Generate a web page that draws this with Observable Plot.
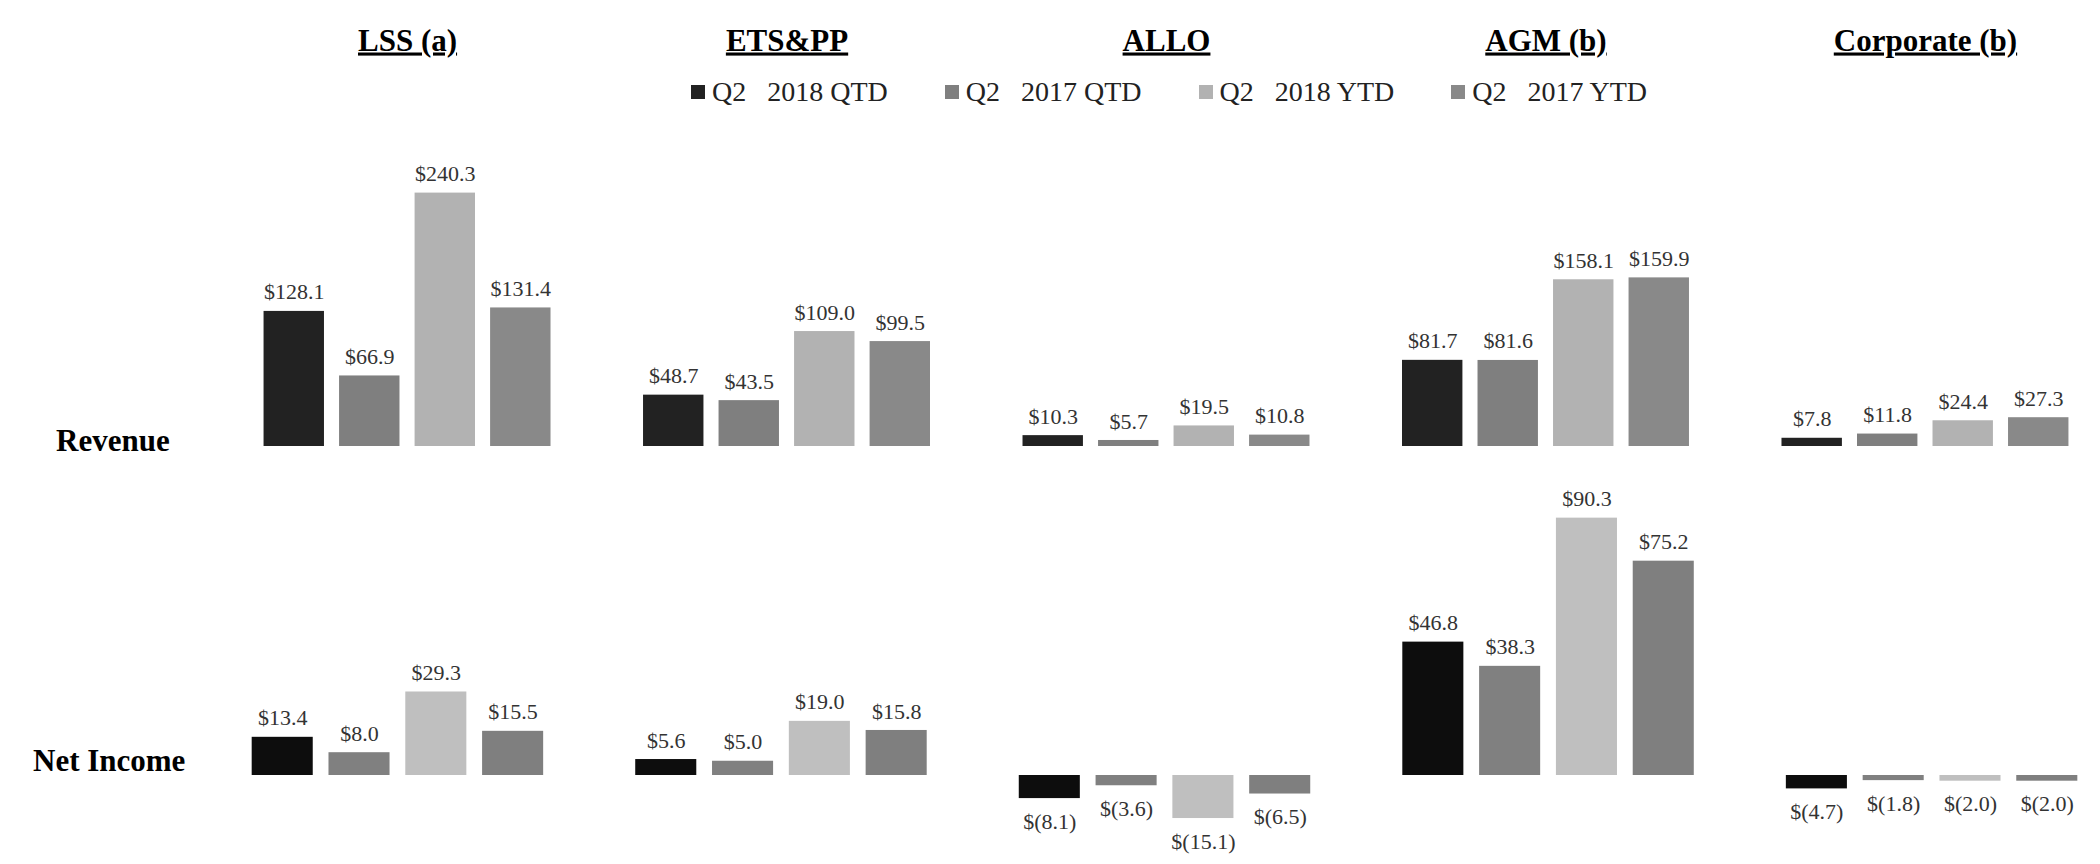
<!DOCTYPE html>
<html>
<head>
<meta charset="utf-8">
<script src="https://cdn.jsdelivr.net/npm/d3@7"></script>
<script src="https://cdn.jsdelivr.net/npm/@observablehq/plot@0.6"></script>
<style>
  html, body { margin: 0; padding: 0; background: #fff; }
  #chart { position: relative; width: 2100px; height: 864px; font-family: "Liberation Serif", "Times New Roman", serif; }
  #chart svg { display: block; }
  #rev { position: absolute; left: 0; top: 0; }
  #ni { position: absolute; left: 0; top: 470px; }
  .rowlabel { position: absolute; font-weight: bold; font-size: 31px; line-height: 31px; color: #000; white-space: nowrap; }
  #legend { position: absolute; left: 691px; top: 75px; color: #222; }
  #legend > div { font-family: "Liberation Serif", "Times New Roman", serif !important; font-size: 28px !important; margin: 0 !important; }
  #legend span { margin-right: 57px !important; white-space: pre; }
  #legend svg { margin-right: 7px !important; }
  #rev g[aria-label="fx-axis tick label"] text { text-decoration: underline; text-decoration-thickness: 2.5px; text-underline-offset: 4px; }
</style>
</head>
<body>
<div id="chart">
  <div id="rev"></div>
  <div id="ni"></div>
  <div id="legend"></div>
  <div class="rowlabel" id="lblRev" style="left:56px; top:425px;"></div>
  <div class="rowlabel" id="lblNi" style="left:33px; top:745px;"></div>
</div>
<script>
// ---- Data ----
const segments = ["LSS (a)", "ETS&PP", "ALLO", "AGM (b)", "Corporate (b)"];
const series = ["Q2   2018 QTD", "Q2   2017 QTD", "Q2   2018 YTD", "Q2   2017 YTD"];
const rowLabels = ["Revenue", "Net Income"];

// Revenue ($M) per segment, one array per series
const revenue2018QTD = [128.1, 48.7, 10.3, 81.7, 7.8];
const revenue2017QTD = [66.9, 43.5, 5.7, 81.6, 11.8];
const revenue2018YTD = [240.3, 109.0, 19.5, 158.1, 24.4];
const revenue2017YTD = [131.4, 99.5, 10.8, 159.9, 27.3];

// Net income ($M) per segment, one array per series
const netIncome2018QTD = [13.4, 5.6, -8.1, 46.8, -4.7];
const netIncome2017QTD = [8.0, 5.0, -3.6, 38.3, -1.8];
const netIncome2018YTD = [29.3, 19.0, -15.1, 90.3, -2.0];
const netIncome2017YTD = [15.5, 15.8, -6.5, 75.2, -2.0];

const revColors = ["#222222", "#7f7f7f", "#b2b2b2", "#898989"];
const niColors = ["#0d0d0d", "#808080", "#bfbfbf", "#7f7f7f"];

// ---- Build tidy tables ----
function tidy(arrays) {
  const out = [];
  segments.forEach((seg, i) => {
    series.forEach((s, j) => out.push({segment: seg, series: s, value: arrays[j][i]}));
  });
  return out;
}
const revData = tidy([revenue2018QTD, revenue2017QTD, revenue2018YTD, revenue2017YTD]);
const niData = tidy([netIncome2018QTD, netIncome2017QTD, netIncome2018YTD, netIncome2017YTD]);

const fmt = v => v >= 0 ? `$${v.toFixed(1)}` : `$(${(-v).toFixed(1)})`;
const FONT = '"Liberation Serif", "Times New Roman", serif';

function labels(data) {
  return [
    Plot.text(data, {filter: d => d.value >= 0, fx: "segment", x: "series", y: "value", text: d => fmt(d.value),
      dy: -19, fontSize: 22, fill: "#333", fontFamily: FONT}),
    Plot.text(data, {filter: d => d.value < 0, fx: "segment", x: "series", y: "value", text: d => fmt(d.value),
      dy: 23, fontSize: 22, fill: "#333", fontFamily: FONT})
  ];
}

// ---- Revenue row ----
const rev = Plot.plot({
  width: 2100, height: 470,
  marginTop: 98, marginBottom: 24, marginLeft: 256, marginRight: 24,
  style: {fontFamily: FONT, background: "transparent", overflow: "visible"},
  fx: {domain: segments, paddingInner: 0.204, paddingOuter: 0, round: false, label: null},
  x: {domain: series, paddingInner: 0.2, paddingOuter: 0.1, round: false, axis: null},
  y: {domain: [0, 330], axis: null},
  color: {domain: series, range: revColors},
  marks: [
    Plot.axisFx({anchor: "top", tickSize: 0, fontSize: 31, fontWeight: "bold", dy: -39, label: null, fill: "#000", fontFamily: FONT}),
    Plot.barY(revData, {fx: "segment", x: "series", y: "value", fill: "series"}),
    ...labels(revData)
  ]
});
document.getElementById("rev").appendChild(rev);

// ---- Net income row ----
const ni = Plot.plot({
  width: 2100, height: 394,
  marginTop: 20, marginBottom: 32, marginLeft: 244, marginRight: 15,
  style: {fontFamily: FONT, background: "transparent", overflow: "visible"},
  fx: {domain: segments, paddingInner: 0.2, paddingOuter: 0, round: false, axis: null},
  x: {domain: series, paddingInner: 0.205, paddingOuter: 0.1, round: false, axis: null},
  y: {domain: [-20, 100], axis: null},
  color: {domain: series, range: niColors},
  marks: [
    Plot.barY(niData, {fx: "segment", x: "series", y: "value", fill: "series"}),
    ...labels(niData)
  ]
});
document.getElementById("ni").appendChild(ni);

// ---- Legend ----
const legend = Plot.legend({color: {domain: series, range: revColors}, swatchSize: 14});
document.getElementById("legend").appendChild(legend);

document.getElementById("lblRev").textContent = rowLabels[0];
document.getElementById("lblNi").textContent = rowLabels[1];
</script>
</body>
</html>
